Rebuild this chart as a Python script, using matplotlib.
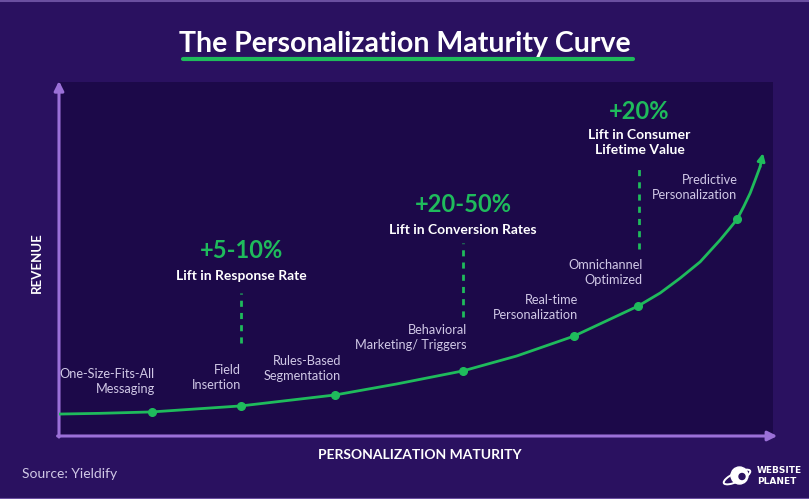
import matplotlib.pyplot as plt
from matplotlib.patches import Ellipse, Circle

# Curve (maturity 0-100, revenue 0-100)
curve_x = [0, 5.7, 13.0, 25.5, 38.7, 47.3, 56.6, 64.1, 72.1, 81.1, 84.2, 87.0, 89.8,
           92.6, 94.0, 95.0, 95.9, 96.8, 97.5, 98.2, 98.6]
curve_y = [6.2, 6.4, 6.8, 8.5, 11.6, 14.7, 18.4, 22.6, 28.2, 36.7, 40.4, 44.6, 49.2,
           55.4, 58.8, 61.3, 64.8, 68.6, 72.3, 76.1, 79.9]

# Maturity stages
stages = ["One-Size-Fits-All\nMessaging", "Field\nInsertion", "Rules-Based\nSegmentation",
          "Behavioral\nMarketing/ Triggers", "Real-time\nPersonalization",
          "Omnichannel\nOptimized", "Predictive\nPersonalization"]
stage_x = [13.0, 25.5, 38.7, 56.6, 72.1, 81.1, 95.0]
stage_y = [6.8, 8.5, 11.6, 18.4, 28.2, 36.7, 61.3]

# Lift callouts
lifts = ["+5-10%", "+20-50%", "+20%"]
lift_texts = ["Lift in Response Rate", "Lift in Conversion Rates", "Lift in Consumer\nLifetime Value"]
lift_x = [25.5, 56.6, 81.3]

BG = "#2a1160"
PANEL = "#1c0949"
AXIS = "#9b70d8"
GREEN = "#1fbb5c"
LABEL = "#d0c8e6"
FONT = "Lato"
W, H = 809, 499


def fx(px):
    return px / W


def fy(py):
    return 1 - py / H


fig = plt.figure(figsize=(W / 100, H / 100), dpi=100, facecolor=BG)

# panel spans pixel x 59..773, y 82..436
ax = fig.add_axes([fx(59), fy(436), fx(773) - fx(59), fy(82) - fy(436)])
ax.set_facecolor(PANEL)
ax.set_xlim(0, 100)
ax.set_ylim(0, 100)
for s in ax.spines.values():
    s.set_visible(False)
ax.set_xticks([])
ax.set_yticks([])

# axes with arrows
ax.annotate("", xy=(0, 100.3), xytext=(0, -0.3),
            arrowprops=dict(arrowstyle="-|>", color=AXIS, lw=2.2, mutation_scale=14,
                            shrinkA=0, shrinkB=0), annotation_clip=False)
ax.annotate("", xy=(100.6, 0), xytext=(-0.2, 0),
            arrowprops=dict(arrowstyle="-|>", color=AXIS, lw=2.2, mutation_scale=14,
                            shrinkA=0, shrinkB=0), annotation_clip=False)

# maturity curve
ax.plot(curve_x[:-1], curve_y[:-1], color=GREEN, lw=2, solid_capstyle="round",
        solid_joinstyle="round", zorder=3)
ax.annotate("", xy=(curve_x[-1], curve_y[-1]), xytext=(curve_x[-2], curve_y[-2]),
            arrowprops=dict(arrowstyle="-|>", color=GREEN, lw=2, mutation_scale=11,
                            shrinkA=0, shrinkB=0), zorder=3)
ax.plot(stage_x, stage_y, "o", color=GREEN, ms=5.5, zorder=4)

# stage labels, right aligned above each dot
label_pos = [(13.4, 15.5), (25.5, 16.4), (39.5, 19.2), (57.1, 27.7),
             (72.7, 36.2), (81.7, 46.3), (95.0, 70.1)]
for text, (lx, ly) in zip(stages, label_pos):
    ax.text(lx, ly, text, ha="right", va="center", color=LABEL, fontsize=9.2,
            family=FONT, linespacing=1.3, multialignment="right")

# lift callouts
pct_y = [52.3, 65.3, 91.8]
sub_y = [45.2, 58.2, 82.8]
dash_y = [(26.3, 40.4), (33.6, 54.5), (52.8, 75.7)]
for i in range(3):
    ax.text(lift_x[i], pct_y[i], lifts[i], ha="center", va="center", color=GREEN,
            fontsize=17, fontweight="bold", family=FONT)
    ax.text(lift_x[i], sub_y[i], lift_texts[i], ha="center", va="center", color="white",
            fontsize=10, fontweight="bold", family=FONT, linespacing=1.3)
    ax.plot([lift_x[i], lift_x[i]], dash_y[i], color=GREEN, lw=2, dashes=(2.2, 2.2))

# title with underline
fig.text(fx(405), fy(44), "The Personalization Maturity Curve", ha="center", va="center",
         color="white", fontsize=20.5, fontweight="bold", family=FONT)
fig.add_artist(plt.Line2D([fx(183), fx(633)], [fy(59), fy(59)], color=GREEN, lw=3,
                          solid_capstyle="round"))

# axis titles
fig.text(fx(420), fy(455), "PERSONALIZATION MATURITY", ha="center", va="center",
         color="white", fontsize=10, fontweight="bold", family=FONT)
fig.text(fx(37), fy(263), "REVENUE", ha="center", va="center", rotation=90,
         color="white", fontsize=9.5, fontweight="bold", family=FONT)

fig.text(fx(22), fy(474), "Source: Yieldify", ha="left", va="center",
         color=LABEL, fontsize=10, family=FONT)

# thin border lines at top and bottom
fig.add_artist(plt.Line2D([0, 1], [fy(0.5), fy(0.5)], color="#6a4fa0", lw=1.5))
fig.add_artist(plt.Line2D([0, 1], [fy(498.5), fy(498.5)], color="#6a4fa0", lw=1.5))

# Website Planet logo
logo = fig.add_axes([fx(722), fy(492), fx(752) - fx(722), fy(462) - fy(492)])
logo.set_xlim(-1.5, 1.5)
logo.set_ylim(-1.5, 1.5)
logo.set_aspect("equal")
logo.axis("off")
logo.add_patch(Circle((0.25, 0.15), 0.85, color="white"))
logo.add_patch(Ellipse((0, 0), 2.9, 0.9, angle=25, fill=False, ec="white", lw=1.4))
logo.add_patch(Circle((0.5, 0.05), 0.3, color=BG))
fig.text(fx(757), fy(476), "WEBSITE\nPLANET", ha="left", va="center", color="white",
         fontsize=6.5, fontweight="bold", family="DejaVu Sans", linespacing=1.3)

fig.savefig("out.png", dpi=100, facecolor=BG)
